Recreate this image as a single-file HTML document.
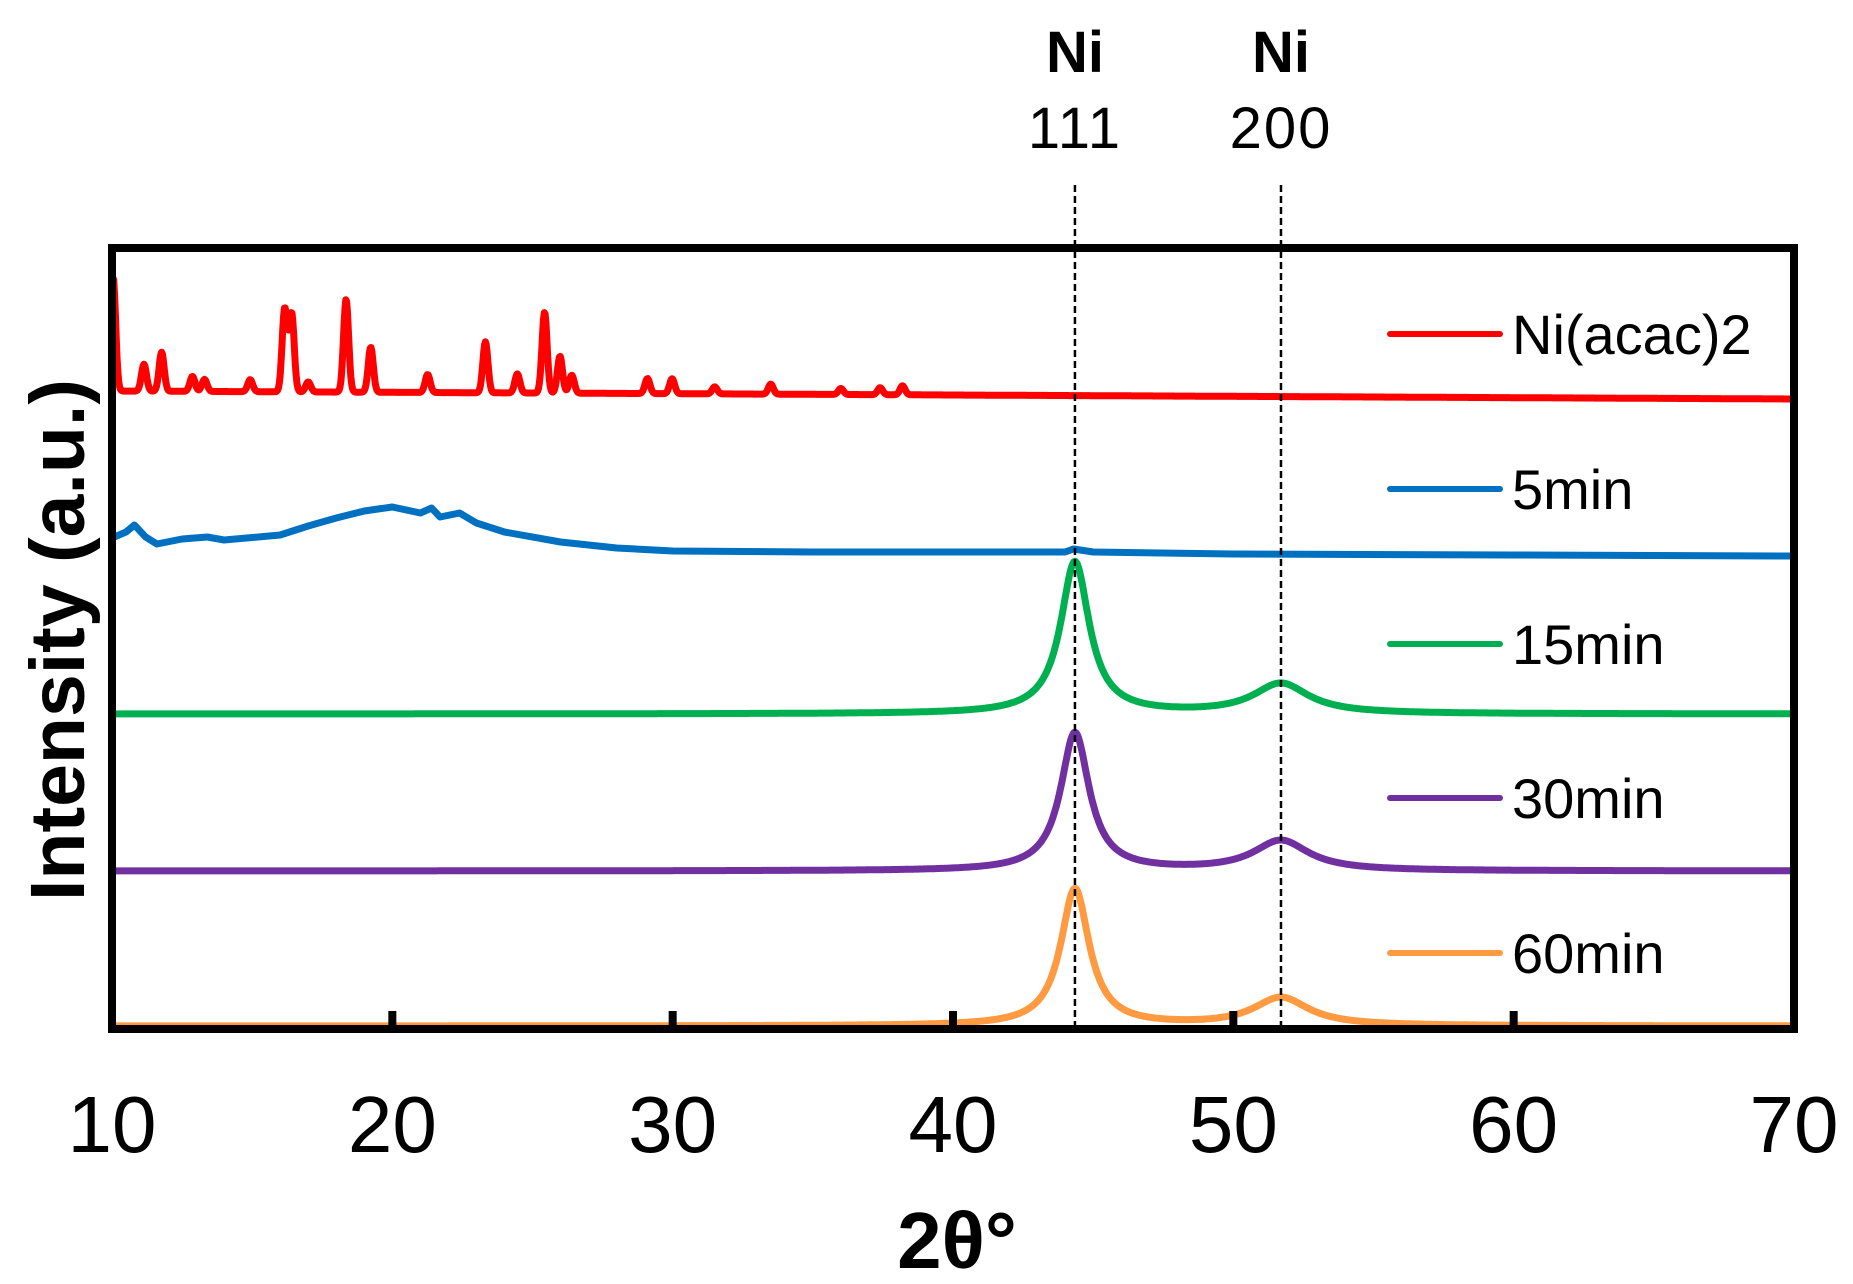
<!DOCTYPE html>
<html><head><meta charset="utf-8"><style>
html,body{margin:0;padding:0;background:#fff;}
svg{display:block;font-family:"Liberation Sans",sans-serif;}
</style></head><body>
<svg id="chart" width="1853" height="1284" viewBox="0 0 1853 1284">
<g id="series"></g>
<rect x="112" y="248" width="1682" height="781" fill="none" stroke="#000" stroke-width="8"/>
<g id="ticks"></g>
<g id="refs"></g>
<g id="legend"></g>
<text x="957" y="1268" font-size="80" font-weight="bold" text-anchor="middle">2θ°</text>
<text transform="translate(84,640) rotate(-90)" font-size="77" font-weight="bold" text-anchor="middle">Intensity (a.u.)</text>
</svg>
<script>
const xTicks = [10,20,30,40,50,60,70];
const seriesNames = ["Ni(acac)2","5min","15min","30min","60min"];
const seriesColors = ["#ff0000","#0070c0","#00b050","#7030a0","#ff9a40"];
const seriesOffsets = [630,473,315,158,3];
// Ni(acac)2 sharp peaks
const redPos = [10.04,11.14,11.77,12.87,13.3,14.93,16.16,16.41,17.0,18.35,19.23,21.26,23.32,24.46,25.43,25.98,26.4,29.1,29.98,31.5,33.5,36.0,37.4,38.2];
const redH = [114,27,39,15,12,12,83,78,10,93,45,18,51,19,81,37,18,15,15,7,10,6,7,9];
// 5min profile points
const blueX = [10,10.5,10.8,11.2,11.6,12.5,13.4,14,16,17,18,19,20,21,21.4,21.7,22.4,23,24,26,28,30,35,40,44,44.3,45,50,60,70];
const blueY = [18,24,31,19,12,17,19,16,21,30,38,45,49,43,48,39,43,33,24,14,8,5,4,4,4,7,4,2,1,0];
// Ni peaks
const niCenters = [44.35,51.7];
const greenH = [152,30];
const purpleH = [138,30];
const orangeH = [137,28];
const niWidths = [0.62,1.2];

const X0=112, X1=1794, YB=1029;
const sx = v => X0 + (v-10)/60*(X1-X0);
const sy = v => YB - v;
const NS="http://www.w3.org/2000/svg";
const sG=document.getElementById('series');

function pathFrom(pts,color,name){
  const p=document.createElementNS(NS,'path');
  p.setAttribute('d',pts.map((q,i)=>(i?'L':'M')+sx(q[0]).toFixed(1)+','+sy(q[1]).toFixed(1)).join(''));
  p.setAttribute('fill','none');p.setAttribute('stroke',color);p.setAttribute('stroke-width','7');
  p.setAttribute('stroke-linejoin','round');
  
  
  sG.appendChild(p);
}
(function(){
  const pts=[];const off=seriesOffsets[0];
  for(let x=10;x<=70.001;x+=0.03){
    let v=off+8*(70-x)/60;
    for(let i=0;i<redPos.length;i++){const d=(x-redPos[i])/0.09;v+=redH[i]*Math.exp(-d*d/2);}
    pts.push([x,v]);
  }
  pathFrom(pts,seriesColors[0],'series-ni-acac2');
})();
pathFrom(blueX.map((x,i)=>[x,seriesOffsets[1]+blueY[i]]),seriesColors[1],'series-5min');
function niSeries(h,off,color,name){
  const pts=[];
  for(let x=10;x<=70.001;x+=0.04){
    let v=off;
    for(let i=0;i<niCenters.length;i++){const g=niWidths[i];const d=x-niCenters[i];v+=h[i]*g*g/(g*g+d*d);}
    pts.push([x,v]);
  }
  pathFrom(pts,color,name);
}
niSeries(greenH,seriesOffsets[2],seriesColors[2],'series-15min');
niSeries(purpleH,seriesOffsets[3],seriesColors[3],'series-30min');
niSeries(orangeH,seriesOffsets[4],seriesColors[4],'series-60min');

const tG=document.getElementById('ticks');
xTicks.forEach(t=>{
  if(t>10&&t<70){
    const r=document.createElementNS(NS,'rect');
    r.setAttribute('x',sx(t)-4);r.setAttribute('y',YB-18);r.setAttribute('width',8);r.setAttribute('height',18);
    r.setAttribute('fill','#000');
    
    
    tG.appendChild(r);
  }
  const tx=document.createElementNS(NS,'text');
  tx.setAttribute('x',sx(t));tx.setAttribute('y',1152);tx.setAttribute('font-size','80');tx.setAttribute('text-anchor','middle');
  tx.textContent=t;
  
  
  tG.appendChild(tx);
});
const rG=document.getElementById('refs');
const refLabels=["111","200"];
niCenters.forEach((c,i)=>{
  const l=document.createElementNS(NS,'line');
  l.setAttribute('x1',sx(c));l.setAttribute('x2',sx(c));l.setAttribute('y1',185);l.setAttribute('y2',YB);
  l.setAttribute('stroke','#000');l.setAttribute('stroke-width','2.5');l.setAttribute('stroke-dasharray','7,4');
  
  
  rG.appendChild(l);
  const a=document.createElementNS(NS,'text');
  a.setAttribute('x',sx(c));a.setAttribute('y',72);a.setAttribute('font-size','58');a.setAttribute('font-weight','bold');a.setAttribute('text-anchor','middle');
  a.textContent='Ni';
  
  
  rG.appendChild(a);
  const b=document.createElementNS(NS,'text');
  b.setAttribute('x',sx(c));b.setAttribute('y',148);b.setAttribute('font-size','58');b.setAttribute('text-anchor','middle');
  b.setAttribute('letter-spacing','2');
  b.textContent=refLabels[i];
  
  
  rG.appendChild(b);
});
const lG=document.getElementById('legend');
const legY=[334,489,644,798,953];
seriesNames.forEach((n,i)=>{
  const l=document.createElementNS(NS,'line');
  l.setAttribute('x1',1390);l.setAttribute('x2',1500);l.setAttribute('y1',legY[i]);l.setAttribute('y2',legY[i]);
  l.setAttribute('stroke',seriesColors[i]);l.setAttribute('stroke-width','6');l.setAttribute('stroke-linecap','round');
  
  
  lG.appendChild(l);
  const t=document.createElementNS(NS,'text');
  t.setAttribute('x',1512);t.setAttribute('y',legY[i]+20);t.setAttribute('font-size','56');
  t.textContent=n;
  
  
  lG.appendChild(t);
});
</script>
</body></html>
